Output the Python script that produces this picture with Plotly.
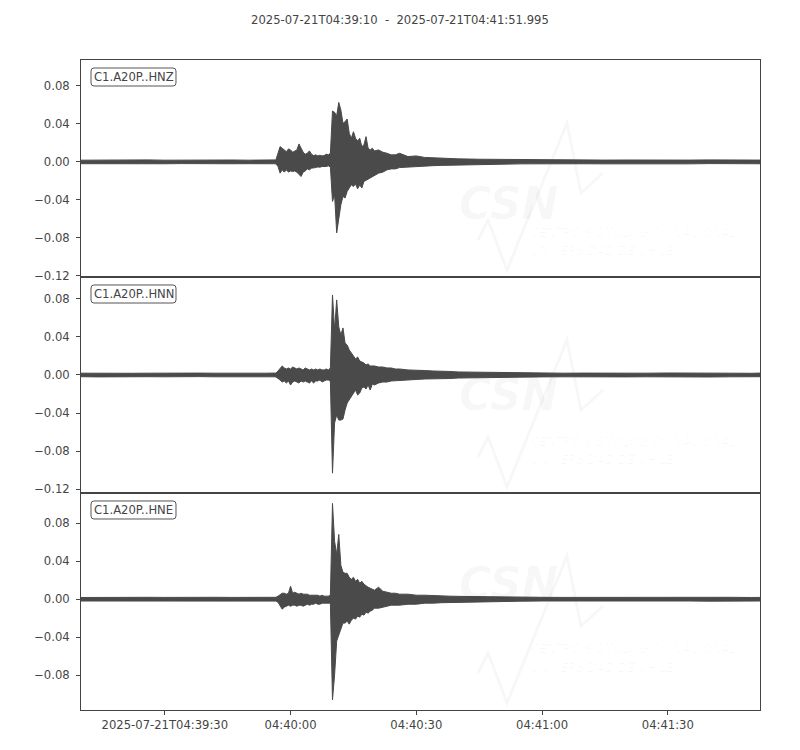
import pandas as pd
import plotly.graph_objects as go
from plotly.subplots import make_subplots

# ---------------- data (seconds after 2025-07-21T04:39:10) ----------------
T = [0, 4, 8, 12, 16, 20, 24, 28, 32, 36, 40, 44, 46,
     46.5, 47, 47.5, 48, 48.5, 49, 49.5, 50,
     50.5, 51, 51.5, 52, 52.5, 53, 53.5, 54,
     54.5, 55, 55.5, 56, 56.5, 57, 57.5, 58,
     58.5, 59, 59.5, 60, 60.5, 61, 61.5, 62,
     62.5, 63, 63.5, 64, 64.5, 65, 65.5, 66,
     66.5, 67, 67.5, 68, 68.5, 69, 69.5, 70,
     71, 72, 73, 74, 75, 76, 78, 80, 82, 84, 86, 88, 90,
     95, 100, 105, 110, 115, 120, 125, 130, 135, 140, 145, 150, 155, 160, 161.995]

# per-column max / min envelope of each channel
HNZ_MAX = [0.0018, 0.0020, 0.0017, 0.0019, 0.0021, 0.0018, 0.0020, 0.0017, 0.0019, 0.0020, 0.0018, 0.0019, 0.0020,
           0.0021, 0.0091, 0.0161, 0.0144, 0.0126, 0.0108, 0.0137, 0.0126,
           0.0102, 0.0116, 0.0126, 0.0189, 0.0144, 0.0102, 0.0081, 0.0091,
           0.0116, 0.0081, 0.0066, 0.0074, 0.0063, 0.0070, 0.0063, 0.0066,
           0.0081, 0.0074, 0.0091, 0.0536, 0.0522, 0.0486, 0.0627, 0.0546,
           0.0406, 0.0423, 0.0452, 0.0301, 0.0249, 0.0318, 0.0249, 0.0221,
           0.0249, 0.0161, 0.0179, 0.0266, 0.0144, 0.0126, 0.0144, 0.0116,
           0.0126, 0.0102, 0.0091, 0.0074, 0.0074, 0.0091, 0.0056, 0.0063, 0.0047, 0.0042, 0.0042, 0.0037, 0.0032,
           0.0028, 0.0026, 0.0022, 0.0024, 0.0020, 0.0021, 0.0019, 0.0020, 0.0018, 0.0020, 0.0019, 0.0021, 0.0018, 0.0020, 0.0019]
HNZ_MIN = [-0.0019, -0.0018, -0.0020, -0.0017, -0.0019, -0.0020, -0.0018, -0.0019, -0.0017, -0.0020, -0.0019, -0.0018, -0.0020,
           -0.0021, -0.0049, -0.0119, -0.0084, -0.0108, -0.0084, -0.0108, -0.0095,
           -0.0102, -0.0095, -0.0108, -0.0129, -0.0154, -0.0108, -0.0095, -0.0074,
           -0.0084, -0.0066, -0.0060, -0.0060, -0.0053, -0.0056, -0.0049, -0.0045,
           -0.0049, -0.0042, -0.0053, -0.0417, -0.0347, -0.0749, -0.0627, -0.0452,
           -0.0364, -0.0381, -0.0312, -0.0276, -0.0242, -0.0259, -0.0234, -0.0284,
           -0.0242, -0.0276, -0.0207, -0.0189, -0.0179, -0.0171, -0.0154, -0.0144,
           -0.0119, -0.0108, -0.0084, -0.0074, -0.0074, -0.0060, -0.0049, -0.0049, -0.0044, -0.0040, -0.0037, -0.0035, -0.0030,
           -0.0027, -0.0025, -0.0021, -0.0022, -0.0019, -0.0020, -0.0021, -0.0018, -0.0020, -0.0019, -0.0021, -0.0018, -0.0020, -0.0019, -0.0020]

HNN_MAX = [0.0019, 0.0017, 0.0020, 0.0018, 0.0019, 0.0021, 0.0018, 0.0020, 0.0019, 0.0017, 0.0020, 0.0019, 0.0020,
           0.0020, 0.0042, 0.0074, 0.0095, 0.0074, 0.0063, 0.0074, 0.0063,
           0.0084, 0.0074, 0.0063, 0.0074, 0.0063, 0.0053, 0.0074, 0.0063,
           0.0053, 0.0063, 0.0053, 0.0063, 0.0053, 0.0063, 0.0053, 0.0053,
           0.0063, 0.0053, 0.0074, 0.0840, 0.0473, 0.0788, 0.0504, 0.0420,
           0.0494, 0.0336, 0.0315, 0.0263, 0.0231, 0.0210, 0.0168, 0.0189,
           0.0147, 0.0137, 0.0126, 0.0105, 0.0116, 0.0095, 0.0095, 0.0095,
           0.0084, 0.0084, 0.0074, 0.0074, 0.0063, 0.0063, 0.0053, 0.0053, 0.0047, 0.0042, 0.0042, 0.0037, 0.0032,
           0.0028, 0.0025, 0.0022, 0.0021, 0.0019, 0.0020, 0.0018, 0.0020, 0.0019, 0.0021, 0.0018, 0.0020, 0.0019, 0.0018, 0.0020]
HNN_MIN = [-0.0018, -0.0020, -0.0019, -0.0021, -0.0018, -0.0019, -0.0020, -0.0017, -0.0019, -0.0020, -0.0018, -0.0020, -0.0019,
           -0.0020, -0.0032, -0.0053, -0.0074, -0.0063, -0.0084, -0.0063, -0.0105,
           -0.0074, -0.0063, -0.0074, -0.0084, -0.0063, -0.0074, -0.0063, -0.0074,
           -0.0084, -0.0063, -0.0084, -0.0063, -0.0063, -0.0053, -0.0074, -0.0063,
           -0.0053, -0.0053, -0.0063, -0.1030, -0.0504, -0.0420, -0.0473, -0.0473,
           -0.0462, -0.0368, -0.0294, -0.0263, -0.0231, -0.0189, -0.0158, -0.0210,
           -0.0189, -0.0137, -0.0126, -0.0147, -0.0105, -0.0158, -0.0095, -0.0105,
           -0.0084, -0.0074, -0.0074, -0.0063, -0.0063, -0.0063, -0.0053, -0.0047, -0.0042, -0.0042, -0.0037, -0.0037, -0.0032,
           -0.0028, -0.0025, -0.0021, -0.0020, -0.0019, -0.0021, -0.0018, -0.0020, -0.0019, -0.0020, -0.0018, -0.0021, -0.0019, -0.0020, -0.0018]

HNE_MAX = [0.0018, 0.0020, 0.0019, 0.0017, 0.0020, 0.0019, 0.0021, 0.0018, 0.0020, 0.0019, 0.0018, 0.0020, 0.0019,
           0.0020, 0.0032, 0.0053, 0.0063, 0.0063, 0.0053, 0.0063, 0.0137,
           0.0063, 0.0074, 0.0063, 0.0053, 0.0063, 0.0053, 0.0053, 0.0053,
           0.0042, 0.0042, 0.0042, 0.0042, 0.0042, 0.0032, 0.0042, 0.0032,
           0.0032, 0.0032, 0.0042, 0.1010, 0.0610, 0.0473, 0.0683, 0.0357,
           0.0284, 0.0273, 0.0273, 0.0231, 0.0210, 0.0231, 0.0189, 0.0210,
           0.0168, 0.0189, 0.0158, 0.0137, 0.0126, 0.0116, 0.0105, 0.0095,
           0.0126, 0.0084, 0.0074, 0.0063, 0.0063, 0.0053, 0.0053, 0.0042, 0.0042, 0.0037, 0.0037, 0.0032, 0.0030,
           0.0026, 0.0024, 0.0021, 0.0020, 0.0019, 0.0020, 0.0018, 0.0021, 0.0019, 0.0020, 0.0018, 0.0019, 0.0020, 0.0018, 0.0019]
HNE_MIN = [-0.0019, -0.0018, -0.0020, -0.0019, -0.0017, -0.0020, -0.0019, -0.0021, -0.0018, -0.0020, -0.0019, -0.0018, -0.0020,
           -0.0020, -0.0032, -0.0074, -0.0105, -0.0084, -0.0074, -0.0063, -0.0074,
           -0.0063, -0.0063, -0.0074, -0.0063, -0.0063, -0.0074, -0.0063, -0.0053,
           -0.0063, -0.0053, -0.0053, -0.0042, -0.0053, -0.0053, -0.0042, -0.0042,
           -0.0042, -0.0042, -0.0042, -0.1060, -0.0798, -0.0441, -0.0378, -0.0315,
           -0.0252, -0.0252, -0.0231, -0.0263, -0.0221, -0.0200, -0.0210, -0.0179,
           -0.0189, -0.0158, -0.0168, -0.0137, -0.0147, -0.0126, -0.0116, -0.0095,
           -0.0095, -0.0084, -0.0074, -0.0063, -0.0063, -0.0063, -0.0053, -0.0053, -0.0042, -0.0042, -0.0037, -0.0035, -0.0032,
           -0.0027, -0.0024, -0.0021, -0.0019, -0.0020, -0.0018, -0.0021, -0.0019, -0.0020, -0.0018, -0.0019, -0.0021, -0.0018, -0.0020, -0.0019]

CHANNELS = ["C1.A20P..HNZ", "C1.A20P..HNN", "C1.A20P..HNE"]
START = "2025-07-21 04:39:10"
END_OFFSET = 161.995
TITLE = "2025-07-21T04:39:10\u00a0\u00a0-\u00a0\u00a02025-07-21T04:41:51.995"
XTICK_VALS = ["2025-07-21 04:39:30", "2025-07-21 04:40:00", "2025-07-21 04:40:30",
              "2025-07-21 04:41:00", "2025-07-21 04:41:30"]
XTICK_TEXT = ["2025-07-21T04:39:30", "04:40:00", "04:40:30", "04:41:00", "04:41:30"]
YTICK_VALS = [-0.12, -0.08, -0.04, 0.0, 0.04, 0.08]
YTICK_TEXT = ["\u22120.12", "\u22120.08", "\u22120.04", "0.00", "0.04", "0.08"]
Y_RANGES = [[-0.121, 0.1074], [-0.1242, 0.1032], [-0.1168, 0.1116]]

SERIES = [(HNZ_MAX, HNZ_MIN), (HNN_MAX, HNN_MIN), (HNE_MAX, HNE_MIN)]
for up, lo in SERIES:
    assert len(up) == len(T) and len(lo) == len(T)

# ---------------- figure ----------------
OFF = 8                      # page body margin
W, H = 800 - OFF, 750 - OFF
ML, MR, MT, MB = 81 - OFF, 40, 60 - OFF, 40
PW, PH = W - ML - MR, H - MT - MB
WAVE = "#4a4a4a"
AX = "#444444"
FONT = "DejaVu Sans"
FS = 11.6
WM = "rgba(0,0,0,0.03)"


def px(x, y):
    """page pixel -> paper coords"""
    x, y = x - OFF, y - OFF
    return (x - ML) / PW, (H - MB - y) / PH


base = pd.Timestamp(START)
times = base + pd.to_timedelta(T, unit="s")
t_list = list(times)
x_end = base + pd.to_timedelta(END_OFFSET, unit="s")

fig = make_subplots(rows=3, cols=1, shared_xaxes=True, vertical_spacing=0)

for i, (up, lo) in enumerate(SERIES):
    xs = t_list + t_list[::-1]
    ys = list(up) + list(lo)[::-1]
    fig.add_trace(go.Scatter(x=xs, y=ys, mode="lines", fill="toself",
                             fillcolor=WAVE, line=dict(color=WAVE, width=1),
                             hoverinfo="skip", showlegend=False),
                  row=i + 1, col=1)
    fig.update_yaxes(row=i + 1, col=1, range=Y_RANGES[i],
                     tickvals=YTICK_VALS, ticktext=YTICK_TEXT,
                     ticks="outside", ticklen=4, tickcolor=AX,
                     ticklabelstandoff=4,
                     showline=True, linecolor=AX, linewidth=1, mirror=True,
                     showgrid=False, zeroline=False,
                     tickfont=dict(family=FONT, size=FS, color=AX))
    last = i == 2
    fig.update_xaxes(row=i + 1, col=1, type="date", range=[base, x_end],
                     tickvals=XTICK_VALS, ticktext=XTICK_TEXT,
                     showticklabels=last, ticks="outside" if last else "",
                     ticklen=4, tickcolor=AX,
                     showline=True, linecolor=AX, linewidth=1, mirror=True,
                     showgrid=False, zeroline=False,
                     tickfont=dict(family=FONT, size=FS, color=AX))

shapes = []
annotations = []
panel_tops = [60, 277, 493]
for i, name in enumerate(CHANNELS):
    dy = panel_tops[i] - 60
    # faint CSN watermark
    pts = [(478, 240), (488, 220), (507, 270), (567, 123), (581, 193), (603, 173)]
    path = ""
    for k, (a, b) in enumerate(pts):
        u, v = px(a, b + dy)
        path += ("M" if k == 0 else "L") + f"{u:.5f},{v:.5f} "
    shapes.append(dict(type="path", xref="paper", yref="paper", path=path,
                       line=dict(color=WM, width=3), layer="below"))
    u, v = px(508, 177 + dy)
    annotations.append(dict(x=u, y=v, xref="paper", yref="paper", text="<b><i>CSN</i></b>",
                            showarrow=False, borderpad=0,
                            font=dict(family=FONT, size=44, color=WM)))
    u, v = px(530, 224 + dy)
    annotations.append(dict(x=u, y=v, xref="paper", yref="paper", xanchor="left",
                            text="<i>CENTRO SISMOLÓGICO NACIONAL</i>", showarrow=False,
                            borderpad=0, font=dict(family=FONT, size=12, color=WM)))
    u, v = px(530, 243 + dy)
    annotations.append(dict(x=u, y=v, xref="paper", yref="paper", xanchor="left",
                            text="<i>UNIVERSIDAD DE CHILE</i>", showarrow=False,
                            borderpad=0, font=dict(family=FONT, size=12, color=WM)))

    # rounded label box
    x0, x1 = 91, 176
    y0, y1 = panel_tops[i] + 8, panel_tops[i] + 26
    r = 3
    P = lambda a, b: "%.5f,%.5f" % px(a, b)
    rpath = (f"M{P(x0 + r, y0)} L{P(x1 - r, y0)} Q{P(x1, y0)} {P(x1, y0 + r)} "
             f"L{P(x1, y1 - r)} Q{P(x1, y1)} {P(x1 - r, y1)} "
             f"L{P(x0 + r, y1)} Q{P(x0, y1)} {P(x0, y1 - r)} "
             f"L{P(x0, y0 + r)} Q{P(x0, y0)} {P(x0 + r, y0)} Z")
    shapes.append(dict(type="path", xref="paper", yref="paper", path=rpath,
                       line=dict(color="#555555", width=1), fillcolor="white", layer="above"))
    u, v = px((x0 + x1) / 2, (y0 + y1) / 2)
    annotations.append(dict(x=u, y=v, xref="paper", yref="paper", text=name,
                            showarrow=False, xanchor="center", yanchor="middle",
                            font=dict(family=FONT, size=FS, color=AX)))

u, v = px(400, 20)
annotations.append(dict(x=u, y=v, xref="paper", yref="paper", text=TITLE,
                        showarrow=False, xanchor="center", yanchor="middle",
                        font=dict(family=FONT, size=FS, color=AX)))

fig.update_layout(width=W, height=H, margin=dict(l=ML, r=MR, t=MT, b=MB),
                  plot_bgcolor="white", paper_bgcolor="white",
                  shapes=shapes, annotations=annotations, showlegend=False)

fig.write_html("out.html")
